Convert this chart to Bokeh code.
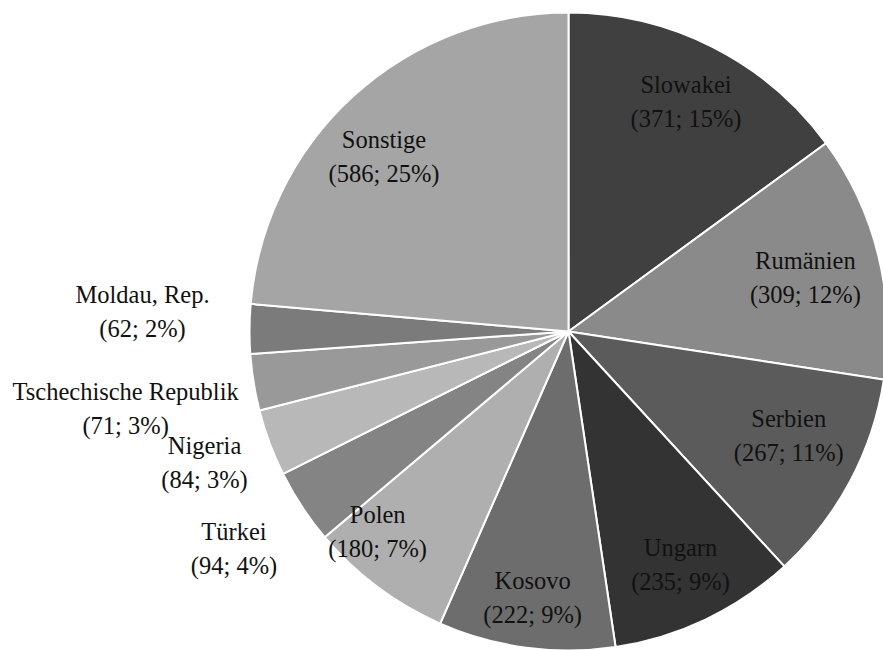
import math
from bokeh.plotting import figure
from bokeh.models import Range1d, ColumnDataSource
from bokeh.core.properties import value
from bokeh.embed import file_html
from bokeh.resources import INLINE

# ---- data ----
categories = ["Slowakei", "Rumänien", "Serbien", "Ungarn", "Kosovo", "Polen",
              "Türkei", "Nigeria", "Tschechische Republik", "Moldau, Rep.", "Sonstige"]
counts = [371, 309, 267, 235, 222, 180, 94, 84, 71, 62, 586]
percents = [15, 12, 11, 9, 9, 7, 4, 3, 3, 2, 25]

# ---- style / layout ----
colors = ["#404040", "#8a8a8a", "#5b5b5b", "#333333", "#6d6d6d", "#afafaf",
          "#848484", "#b8b8b8", "#999999", "#7b7b7b", "#a5a5a5"]
outside = [False, False, False, False, False, False, True, True, True, True, False]
# pixel nudges of label centres relative to their computed anchor (x right, y up)
label_nudge = [(2, 2), (-11, -7), (-5, 16), (2, -3), (-2, -13), (-38, 4),
               (-68, -42), (-65, -20), (-128, -26), (-107, 17), (-12, -13)]

W, H = 883, 650
CX, CY = 568, 331   # pie centre in pixels from left / top
R = 319

total = sum(counts)
starts, ends, mids = [], [], []
acc = 0.0
for c in counts:
    a0 = math.pi / 2 - 2 * math.pi * acc / total
    acc += c
    a1 = math.pi / 2 - 2 * math.pi * acc / total
    starts.append(a0)
    ends.append(a1)
    mids.append((a0 + a1) / 2)

src = ColumnDataSource(dict(start=starts, end=ends, color=colors))

p = figure(width=W, height=H, output_backend="svg", toolbar_location=None,
           x_range=Range1d(-CX, W - CX), y_range=Range1d(-(H - CY), CY),
           min_border=0, outline_line_color=None,
           background_fill_color="white", border_fill_color="white")
p.axis.visible = False
p.grid.visible = False

p.wedge(x=0, y=0, radius=R, start_angle="start", end_angle="end",
        direction="clock", fill_color="color", line_color="white",
        line_width=2, source=src)

lx, ly1, ly2, t1, t2 = [], [], [], [], []
for i, name in enumerate(categories):
    rr = R if outside[i] else 0.8 * R
    x = rr * math.cos(mids[i]) + label_nudge[i][0]
    y = rr * math.sin(mids[i]) + label_nudge[i][1]
    lx.append(x)
    ly1.append(y + 17)
    ly2.append(y - 17)
    t1.append(name)
    t2.append(f"({counts[i]}; {percents[i]}%)")

lsrc = ColumnDataSource(dict(x=lx, y1=ly1, y2=ly2, t1=t1, t2=t2))
for ycol, tcol in (("y1", "t1"), ("y2", "t2")):
    p.text(x="x", y=ycol, text=tcol, source=lsrc,
           text_font=value("Liberation Serif"),
           text_font_size="24.5px",
           text_color="#111111", text_align="center", text_baseline="middle")

open("out.html", "w").write(file_html(p, INLINE))
